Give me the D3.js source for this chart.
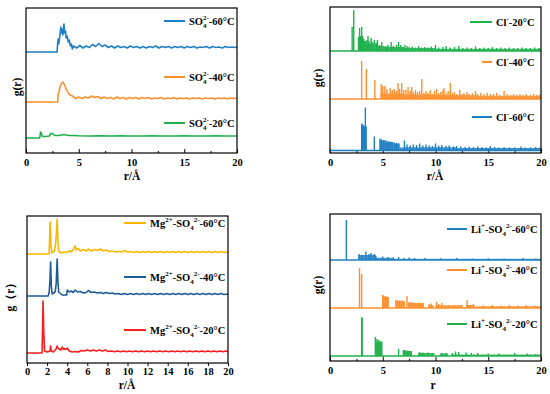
<!DOCTYPE html>
<html>
<head>
<meta charset="utf-8">
<script src="https://cdn.jsdelivr.net/npm/d3@7"></script>
<style>
  body { margin: 0; background: #fff; }
  svg { display: block; }
</style>
</head>
<body>
<svg id="chart" width="550" height="394"></svg>
<script>
// ---- data (g(r), heights above each curve's own baseline) ----
var xTicksA = [0, 5, 10, 15, 20];
var xMinorA = [2.5, 7.5, 12.5, 17.5];
var xTicksMg = [0, 2, 4, 6, 8, 10, 12, 14, 16, 18, 20];

// vertical offsets of the stacked curves
var offsetsSO4 = [10.1, 5.1, 1.5];
var offsetsCl = [10.2, 5.4, 0.25];
var offsetsMg = [10.9, 6.7, 1.0];
var offsetsLi = [10.1, 5.3, 0.5];

var so4_60 = [[0,0],[2.95,0],[3.0,0.9],[3.05,1.3],[3.1,0.8],[3.2,1.5],[3.3,2.5],[3.35,1.9],[3.45,2.3],[3.5,1.7],[3.6,2.8],[3.65,1.9],[3.75,2.1],[3.8,1.4],[3.9,1.6],[4.0,1.0],[4.1,1.2],[4.2,0.6],[4.3,0.8],[4.4,0.3],
  [4.5,0.6],[4.8,0.4],[5.1,0.65],[5.4,0.4],[5.7,0.6],[6.0,0.45],[6.3,0.75],[6.6,0.55],[6.9,0.85],[7.2,0.55],[7.5,0.7],[7.8,0.45],[8.1,0.6],[8.4,0.4],[8.7,0.6],[9.0,0.45],[9.3,0.55],[9.6,0.4],[9.9,0.6],[10.2,0.45],
  [10.5,0.55],[10.8,0.4],[11.1,0.55],[11.4,0.4],[11.7,0.55],[12.0,0.45],[12.3,0.6],[12.6,0.4],[12.9,0.55],[13.2,0.45],[13.5,0.55],[13.8,0.4],[14.1,0.55],[14.4,0.45],[14.7,0.55],[15.0,0.4],[15.3,0.55],[15.6,0.45],
  [15.9,0.55],[16.2,0.4],[16.5,0.5],[16.8,0.45],[17.1,0.55],[17.4,0.4],[17.7,0.55],[18.0,0.45],[18.3,0.5],[18.6,0.4],[18.9,0.55],[19.2,0.45],[19.5,0.5],[19.8,0.45],[20,0.5]];
var so4_40 = [[0,0],[3.0,0],[3.05,0.8],[3.15,1.1],[3.2,1.4],[3.3,1.7],[3.4,1.9],[3.5,2.0],[3.6,1.8],[3.7,1.6],[3.8,1.3],[3.9,1.1],[4.0,0.9],[4.2,0.7],
  [4.4,0.6],[4.7,0.35],[5.0,0.5],[5.3,0.35],[5.6,0.5],[5.9,0.4],[6.2,0.6],[6.5,0.45],[6.8,0.55],[7.1,0.35],[7.4,0.5],[7.7,0.35],[8.0,0.45],[8.3,0.3],[8.6,0.5],[8.9,0.35],[9.2,0.45],[9.5,0.3],[9.8,0.45],[10.1,0.35],
  [10.4,0.45],[10.7,0.3],[11.0,0.45],[11.3,0.35],[11.6,0.45],[11.9,0.3],[12.2,0.4],[12.5,0.35],[12.8,0.45],[13.1,0.3],[13.4,0.4],[13.7,0.35],[14.0,0.45],[14.3,0.3],[14.6,0.4],[14.9,0.35],[15.2,0.4],[15.5,0.3],
  [15.8,0.4],[16.1,0.35],[16.4,0.4],[16.7,0.3],[17.0,0.4],[17.3,0.35],[17.6,0.4],[17.9,0.3],[18.2,0.4],[18.5,0.35],[18.8,0.4],[19.1,0.3],[19.4,0.4],[19.7,0.35],[20,0.4]];
var so4_20 = [[0,0],[1.3,0],[1.38,0.6],[1.45,0.5],[1.55,0.15],[1.9,0.15],[2.2,0.2],[2.35,0.45],[2.5,0.45],[2.65,0.3],[2.85,0.25],[3.1,0.25],[3.4,0.3],[3.6,0.35],[3.8,0.3],[4.1,0.25],[4.5,0.25],
  [5.0,0.22],[6.0,0.2],[7.0,0.22],[8.0,0.2],[9.0,0.21],[10.0,0.2],[11.0,0.2],[12.0,0.21],[13.0,0.2],[14.0,0.2],[15.0,0.21],[16.0,0.2],[17.0,0.2],[18.0,0.21],[19.0,0.2],[20,0.2]];

var mg_60 = [[0,0],[2.2,0],[2.25,1.5],[2.3,3.2],[2.38,1.0],[2.45,0.1],[2.7,0.3],[2.85,1.0],[2.93,2.2],[3.0,3.5],[3.08,1.2],[3.15,0.3],[3.4,0.1],[3.7,0.2],[4.0,0.15],[4.2,0.35],[4.4,0.2],[4.6,0.45],[4.8,0.8],[4.9,0.4],
  [5.1,0.55],[5.3,0.3],[5.6,0.45],[5.9,0.3],[6.1,0.5],[6.4,0.3],[6.7,0.45],[7.0,0.35],[7.3,0.5],[7.6,0.3],[7.9,0.4],[8.2,0.25],[8.5,0.3],[8.8,0.2],[9.1,0.25],[9.4,0.2],[9.7,0.35],[10.0,0.2],
  [10.3,0.25],[10.6,0.15],[10.9,0.25],[11.2,0.15],[11.5,0.25],[11.8,0.15],[12.1,0.25],[12.4,0.15],[12.7,0.25],[13.0,0.15],[13.3,0.25],[13.6,0.15],[13.9,0.25],[14.2,0.15],[14.5,0.25],[14.8,0.15],
  [15.1,0.25],[15.4,0.15],[15.7,0.25],[16.0,0.15],[16.3,0.25],[16.6,0.15],[16.9,0.25],[17.2,0.15],[17.5,0.25],[17.8,0.15],[18.1,0.25],[18.4,0.15],[18.7,0.25],[19.0,0.15],[19.3,0.25],[19.6,0.15],[20,0.2]];
var mg_40 = [[0,0],[2.1,0],[2.2,0.3],[2.28,1.5],[2.35,3.4],[2.42,1.0],[2.5,0.2],[2.8,0.4],[2.9,1.2],[2.95,2.4],[3.0,3.7],[3.08,1.4],[3.15,0.4],[3.5,0.1],[3.95,0.1],[4.0,0.6],[4.2,0.4],[4.4,0.5],[4.6,0.35],[4.8,0.6],
  [5.0,0.4],[5.3,0.45],[5.6,0.3],[5.9,0.35],[6.1,0.55],[6.4,0.35],[6.7,0.4],[7.0,0.3],[7.3,0.35],[7.6,0.25],[7.9,0.35],[8.2,0.25],[8.5,0.3],[8.8,0.2],
  [9.1,0.25],[9.4,0.15],[9.7,0.25],[10.0,0.15],[10.3,0.25],[10.6,0.15],[10.9,0.25],[11.2,0.15],[11.5,0.25],[11.8,0.15],[12.1,0.25],[12.4,0.15],[12.7,0.25],[13.0,0.15],[13.3,0.25],[13.6,0.15],[13.9,0.25],
  [14.2,0.15],[14.5,0.25],[14.8,0.15],[15.1,0.25],[15.4,0.15],[15.7,0.25],[16.0,0.15],[16.3,0.25],[16.6,0.15],[16.9,0.25],[17.2,0.15],[17.5,0.25],[17.8,0.15],[18.1,0.25],[18.4,0.15],[18.7,0.25],[19.0,0.15],
  [19.3,0.25],[19.6,0.15],[20,0.2]];
var mg_20 = [[0,0],[1.5,0],[1.55,2.5],[1.6,5.2],[1.67,2.0],[1.75,0.2],[2.0,0.1],[2.3,0.2],[2.35,0.7],[2.42,0.2],[2.6,0.1],[2.9,0.4],[3.0,0.7],[3.1,0.5],[3.2,0.4],[3.35,0.3],[3.5,0.6],[3.6,0.35],[3.7,0.45],[3.85,0.35],[4.0,0.5],[4.2,0.2],
  [4.5,0.1],[4.8,0.15],[5.1,0.1],[5.4,0.25],[5.7,0.2],[6.0,0.3],[6.3,0.2],[6.6,0.3],[6.9,0.2],[7.2,0.3],[7.5,0.2],[7.8,0.3],[8.1,0.15],
  [8.4,0.2],[8.7,0.12],[9.0,0.2],[9.3,0.12],[9.6,0.2],[9.9,0.12],[10.2,0.2],[10.5,0.12],[10.8,0.2],[11.1,0.12],[11.4,0.2],[11.7,0.12],[12.0,0.2],[12.3,0.12],[12.6,0.2],[12.9,0.12],[13.2,0.2],[13.5,0.12],
  [13.8,0.2],[14.1,0.12],[14.4,0.2],[14.7,0.12],[15.0,0.2],[15.3,0.12],[15.6,0.2],[15.9,0.12],[16.2,0.2],[16.5,0.12],[16.8,0.2],[17.1,0.12],[17.4,0.2],[17.7,0.12],[18.0,0.2],[18.3,0.12],[18.6,0.2],[18.9,0.12],
  [19.2,0.2],[19.5,0.12],[19.8,0.2],[20,0.15]];

// spiky curves: individual peaks [r, height] and dense comb regions [r0, r1, height]
var cl_20_spikes = [[2.1,2.4],[2.25,4.1],[2.7,1.4],[2.8,2.3],[2.9,1.5],[3.0,2.4],[3.1,1.5],[3.2,1.2],[3.3,1.0],[3.5,1.1],[3.6,1.5],[3.7,1.0],[3.9,1.3],[4.0,0.9],[4.2,1.1],[4.4,0.8],[4.5,1.1],[4.7,0.6],[4.9,0.9],
  [5.1,0.5],[5.3,0.5],[5.5,0.6],[5.8,0.9],[6.0,0.5],[6.3,0.6],[6.5,0.9],[6.7,0.6],[6.9,0.4],[7.1,0.6],[7.3,0.5],[7.5,0.4],[7.8,0.45],[8.1,0.35],[8.4,0.5],[8.7,0.35],[9.0,0.4],[9.3,0.35],[9.6,0.45],[10.0,0.6],
  [10.3,0.35],[10.7,0.4],[11.0,0.5],[11.4,0.35],[11.8,0.4],[12.2,0.5],[12.6,0.3],[13.0,0.35],[13.4,0.3],[13.8,0.45],[14.2,0.3],[14.6,0.35],[15.0,0.3],[15.4,0.4],[15.8,0.3],[16.2,0.35],[16.6,0.3],[17.0,0.35],
  [17.4,0.3],[17.8,0.3],[18.2,0.35],[18.6,0.3],[19.0,0.3],[19.4,0.35],[19.8,0.3]];
var cl_20_bands = [[2.7,3.5,1.0],[3.5,4.5,0.75],[4.5,5.0,0.5],[5.0,7.0,0.4],[7.0,10.0,0.3],[10.0,20,0.22]];
var cl_40_spikes = [[3.0,3.8],[3.45,3.0],[4.25,1.9],[4.85,1.5],[5.0,1.3],[5.2,1.3],[5.4,1.0],[5.7,1.1],[5.9,0.9],[6.1,1.0],[6.3,0.8],[6.45,1.6],[6.6,1.0],[6.8,1.6],[7.0,0.9],[7.2,0.9],[7.4,1.2],[7.6,0.8],[7.75,1.2],
  [7.9,0.7],[8.1,0.9],[8.3,0.7],[8.5,0.8],[8.7,2.0],[8.9,0.6],[9.1,0.8],[9.3,0.6],[9.5,0.9],[9.7,0.5],[9.9,0.8],[10.1,1.0],[10.3,0.6],[10.5,0.7],[10.7,0.9],[10.8,1.1],[11.0,0.6],[11.2,0.8],[11.4,1.6],[11.6,0.6],
  [11.8,0.7],[12.0,0.5],[12.3,0.9],[12.5,0.5],[12.7,0.6],[13.0,0.7],[13.2,0.5],[13.5,0.6],[13.8,0.8],[14.0,0.5],[14.3,0.6],[14.6,0.5],[14.9,0.6],[15.2,0.5],[15.5,0.5],[15.8,0.6],[16.1,0.4],[16.5,0.8],[16.8,0.5],
  [17.1,0.4],[17.4,0.5],[17.7,0.4],[18.0,0.5],[18.3,0.4],[18.6,0.5],[19.0,0.4],[19.3,0.5],[19.6,0.4],[19.9,0.5]];
var cl_40_bands = [[4.8,7.0,0.55],[7.0,10.0,0.45],[10.0,14.0,0.38],[14.0,20,0.32]];
var cl_60_spikes = [[3.0,2.7],[3.1,2.6],[3.2,2.5],[3.35,4.3],[3.42,2.4],[4.2,1.4],[4.75,1.2],[4.9,1.1],[5.1,1.05],[5.3,1.0],[5.5,0.95],[5.7,0.9],[5.9,0.85],[6.1,0.8],[6.3,0.75],[6.5,0.7],[7.05,1.0],[7.3,0.6],
  [7.6,0.5],[7.9,0.6],[8.2,0.55],[8.5,0.7],[8.8,0.5],[9.1,0.6],[9.4,0.5],[9.7,0.45],[10.0,0.7],[10.3,0.5],[10.6,0.55],[11.0,0.45],[11.3,0.5],[11.7,0.4],[12.0,0.45],[12.4,0.4],[12.8,0.35],[13.2,0.4],[13.6,0.35],
  [14.0,0.4],[14.4,0.35],[14.8,0.3],[15.2,0.45],[15.6,0.35],[16.0,0.3],[16.5,0.35],[17.0,0.3],[17.5,0.3],[18.1,0.4],[18.5,0.3],[19.0,0.3],[19.5,0.35],[19.9,0.3]];
var cl_60_bands = [[3.0,3.45,2.4],[4.7,5.3,1.0],[5.3,6.0,0.85],[6.0,6.6,0.7],[6.6,7.0,0.3],[7.0,12.0,0.32],[12.0,20,0.25]];

var li_60_spikes = [[1.55,4.0],[2.75,0.6],[3.0,0.5],[3.4,0.85],[3.7,0.6],[3.9,0.7],[4.2,0.6],[4.35,0.4],[5.0,0.35],[5.5,0.3],[6.0,0.25],[6.5,0.3],[7.0,0.2],[7.5,0.25],[8.0,0.2],[9.0,0.2],[10.5,0.18],[12.0,0.2],
  [13.5,0.15],[15.0,0.18],[16.5,0.15],[18.3,0.2],[19.5,0.15]];
var li_60_bands = [[2.7,4.35,0.5],[4.35,6.0,0.22],[6.0,20,0.12]];
var li_40_spikes = [[2.8,4.0],[3.0,3.4],[5.0,1.3],[5.1,1.25],[5.25,1.2],[5.4,1.15],[5.5,1.1],[6.25,0.8],[6.4,0.8],[6.6,0.75],[6.8,0.75],[7.0,0.7],[7.3,1.2],[7.5,0.6],[7.7,0.6],[7.9,0.55],[8.1,0.5],[8.4,0.55],
  [8.6,0.5],[8.8,0.5],[9.4,0.4],[9.6,0.45],[10.1,0.6],[10.3,0.4],[10.6,0.5],[11.2,0.3],[11.8,0.3],[12.4,0.3],[13.0,0.8],[13.2,0.3],[13.6,0.4],[14.5,0.25],[15.4,0.3],[16.2,0.25],[17.0,0.3],[17.8,0.25],
  [18.6,0.3],[19.4,0.25]];
var li_40_bands = [[5.0,5.55,1.1],[6.2,7.1,0.7],[7.4,8.9,0.5],[9.3,9.8,0.3],[10.0,12.6,0.28],[12.9,13.7,0.3],[13.8,20,0.18]];
var li_20_spikes = [[3.0,3.9],[3.05,3.8],[4.3,1.9],[4.45,1.7],[4.6,1.6],[4.75,1.5],[4.9,1.45],[6.5,0.7],[6.95,0.6],[7.1,0.6],[7.3,0.55],[7.45,0.5],[7.7,0.5],[8.5,0.4],[8.8,0.35],[9.3,0.35],[9.7,0.3],
  [10.6,0.3],[11.0,0.3],[11.6,0.3],[11.9,0.45],[12.2,0.4],[12.9,0.35],[13.4,0.3],[14.0,0.3],[15.0,0.25],[16.0,0.25],[17.5,0.3],[18.7,0.25],[19.5,0.2]];
var li_20_bands = [[4.3,4.95,1.4],[6.95,7.75,0.5],[8.35,9.9,0.3],[10.4,11.2,0.25],[11.5,20,0.15]];

var labelsSO4 = ["-60°C", "-40°C", "-20°C"];
var labelsCl = ["-20°C", "-40°C", "-60°C"];
var labelsMg = ["-60°C", "-40°C", "-20°C"];
var labelsLi = ["-60°C", "-40°C", "-20°C"];

// ---- drawing ----
var FONT = '"Liberation Serif","Times New Roman",serif';
var BLUE = "#1f7fc3", ORANGE = "#ff8f2e", GREEN = "#1fb14c", YELLOW = "#f8b800", DBLUE = "#1f5c96", RED = "#ff1c1c";

var svg = d3.select("#chart");
svg.append("rect").attr("width", 550).attr("height", 394).attr("fill", "#fff");

function makePanel(box, ticks, minor, inward) {
    var g = svg.append("g");
    var x = d3.scaleLinear().domain([0, 20]).range([box.x0, box.x1]);
    var y = d3.scaleLinear().domain([0, (box.y1 - box.y0) / 10]).range([box.y1, box.y0]);
    var ax = d3.axisBottom(x).tickValues(ticks).tickSizeOuter(0)
        .tickSizeInner(inward ? -4 : 3).tickPadding(inward ? 6 : 2);
    var axg = g.append("g").attr("transform", "translate(0," + box.y1 + ")").call(ax);
    axg.select(".domain").remove();
    axg.selectAll("line").attr("stroke", "#000").attr("stroke-width", 1);
    axg.selectAll("text").attr("font-family", FONT).attr("font-weight", "bold")
        .attr("font-size", 10.5).attr("fill", "#000");
    if (minor) {
        var mg = g.append("g").attr("transform", "translate(0," + box.y1 + ")")
            .call(d3.axisBottom(x).tickValues(minor).tickSizeInner(-2).tickSizeOuter(0).tickFormat(""));
        mg.select(".domain").remove();
        mg.selectAll("line").attr("stroke", "#000");
    }
    return {g: g, x: x, y: y, box: box};
}

function frame(p) {
    p.g.append("rect").attr("x", p.box.x0).attr("y", p.box.y0)
        .attr("width", p.box.x1 - p.box.x0).attr("height", p.box.y1 - p.box.y0)
        .attr("fill", "none").attr("stroke", "#000").attr("stroke-width", 1.2);
}

function drawLine(p, data, off, color) {
    var line = d3.line()
        .x(function (d) { return p.x(d[0]); })
        .y(function (d) { return p.y(off + d[1]); });
    p.g.append("path").datum(data).attr("d", line)
        .attr("fill", "none").attr("stroke", color).attr("stroke-width", 1.6)
        .attr("stroke-linejoin", "round");
}

function drawSpiky(p, spikes, bands, off, color) {
    var base = d3.line()
        .x(function (d) { return p.x(d[0]); })
        .y(function (d) { return p.y(off + d[1]); });
    p.g.append("path").datum([[0, 0], [20, 0]]).attr("d", base)
        .attr("stroke", color).attr("stroke-width", 1.6).attr("fill", "none");
    p.g.selectAll(null).data(bands).enter().append("rect")
        .attr("x", function (d) { return p.x(d[0]); })
        .attr("width", function (d) { return p.x(d[1]) - p.x(d[0]); })
        .attr("y", function (d) { return p.y(off + d[2]); })
        .attr("height", function (d) { return p.y(off) - p.y(off + d[2]); })
        .attr("fill", color).attr("opacity", 0.85);
    p.g.selectAll(null).data(spikes).enter().append("line")
        .attr("x1", function (d) { return p.x(d[0]); })
        .attr("x2", function (d) { return p.x(d[0]); })
        .attr("y1", p.y(off))
        .attr("y2", function (d) { return p.y(off + d[1]); })
        .attr("stroke", color).attr("stroke-width", 1.4);
}

// parts: [text, shift] where shift: 0 normal, 1 sup, -1 sub, 2 sup stacked over previous sub
function legend(lx0, lx1, ly, color, parts) {
    svg.append("line").attr("x1", lx0).attr("x2", lx1).attr("y1", ly).attr("y2", ly)
        .attr("stroke", color).attr("stroke-width", 2);
    var t = svg.append("text").attr("x", lx1 + 4).attr("y", ly + 3.8)
        .attr("font-family", FONT).attr("font-weight", "bold").attr("font-size", 10.5).attr("fill", "#000");
    var level = 0;
    parts.forEach(function (pt) {
        var s = t.append("tspan").text(pt[0]);
        var target = pt[1] === 1 || pt[1] === 2 ? -4.5 : (pt[1] === -1 ? 3 : 0);
        s.attr("dy", target - level);
        if (pt[1] === 2) s.attr("dx", -3.6);
        if (pt[1] !== 0) s.attr("font-size", 7);
        level = target;
    });
}

function yTitle(cx, cy, txt) {
    svg.append("text").attr("transform", "translate(" + cx + "," + cy + ") rotate(-90)")
        .attr("text-anchor", "middle").attr("font-family", FONT).attr("font-weight", "bold")
        .attr("font-size", 11.5).text(txt);
}
function xTitle(cx, cy, txt) {
    svg.append("text").attr("x", cx).attr("y", cy).attr("text-anchor", "middle")
        .attr("font-family", FONT).attr("font-weight", "bold").attr("font-size", 11.5).text(txt);
}

// panel 1: SO4
var p1 = makePanel({x0: 26, x1: 237, y0: 8, y1: 153}, xTicksA, xMinorA, true);
drawLine(p1, so4_20, offsetsSO4[2], GREEN);
drawLine(p1, so4_40, offsetsSO4[1], ORANGE);
drawLine(p1, so4_60, offsetsSO4[0], BLUE);
frame(p1);
[BLUE, ORANGE, GREEN].forEach(function (c, i) {
    legend(164, 185, [21, 77, 123][i], c, [["SO", 0], ["4", -1], ["2-", 2], [labelsSO4[i], 0]]);
});
xTitle(132, 180, "r/Å");
yTitle(21, 87, "g(r)");

// panel 2: Cl
var p2 = makePanel({x0: 330, x1: 541, y0: 7, y1: 153}, xTicksA, xMinorA, true);
drawSpiky(p2, cl_60_spikes, cl_60_bands, offsetsCl[2], BLUE);
drawSpiky(p2, cl_40_spikes, cl_40_bands, offsetsCl[1], ORANGE);
drawSpiky(p2, cl_20_spikes, cl_20_bands, offsetsCl[0], GREEN);
frame(p2);
[GREEN, ORANGE, BLUE].forEach(function (c, i) {
    legend([470, 482, 472][i], 492, [22, 62, 117][i], c, [["Cl", 0], ["-", 1], [labelsCl[i], 0]]);
});
xTitle(435, 180, "r/Å");
yTitle(322, 78, "g(r)");

// panel 3: Mg
var p3 = makePanel({x0: 27, x1: 228, y0: 216, y1: 363}, xTicksMg, null, false);
drawLine(p3, mg_20, offsetsMg[2], RED);
drawLine(p3, mg_40, offsetsMg[1], DBLUE);
drawLine(p3, mg_60, offsetsMg[0], YELLOW);
frame(p3);
[YELLOW, DBLUE, RED].forEach(function (c, i) {
    legend(124, 146, [223, 277, 330][i], c, [["Mg", 0], ["2+", 1], ["-SO", 0], ["4", -1], ["2-", 1], [labelsMg[i], 0]]);
});
xTitle(127, 389, "r/Å");
yTitle(14, 294, "g（r）");

// panel 4: Li
var p4 = makePanel({x0: 330, x1: 541, y0: 214, y1: 361}, xTicksA, xMinorA, true);
drawSpiky(p4, li_20_spikes, li_20_bands, offsetsLi[2], GREEN);
drawSpiky(p4, li_40_spikes, li_40_bands, offsetsLi[1], ORANGE);
drawSpiky(p4, li_60_spikes, li_60_bands, offsetsLi[0], BLUE);
frame(p4);
[BLUE, ORANGE, GREEN].forEach(function (c, i) {
    legend(447, 467, [229, 270, 324][i], c, [["Li", 0], ["+", 1], ["-SO", 0], ["4", -1], ["2-", 1], [labelsLi[i], 0]]);
});
xTitle(433, 389, "r");
yTitle(322, 285, "g(r)");
</script>
</body>
</html>
